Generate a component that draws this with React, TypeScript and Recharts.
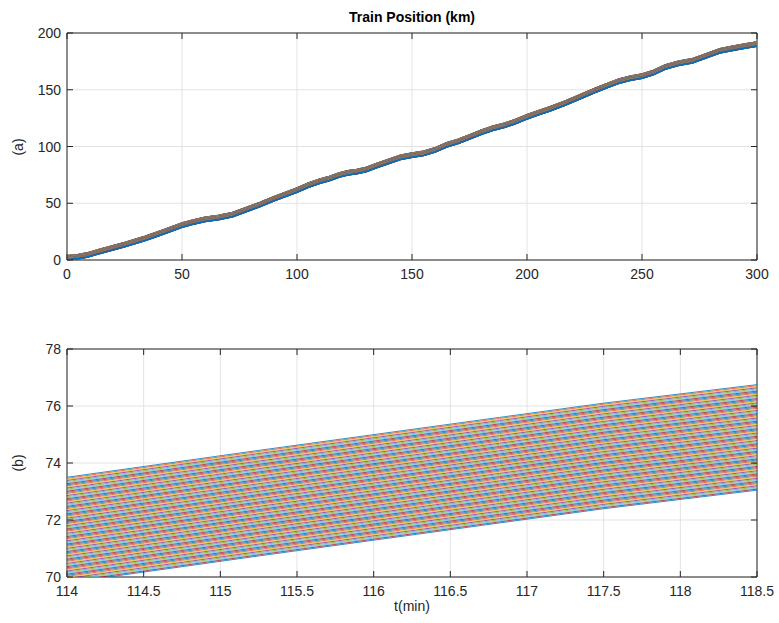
import { LineChart, Line, XAxis, YAxis, CartesianGrid, ReferenceArea } from 'recharts';

// time samples (min) and position of the front train (km)
const tMin = [
  0, 5, 9, 14, 20, 25, 29, 34, 39, 45, 50, 55, 60, 66, 72, 78, 84, 90, 95, 100, 105, 110,
  114, 115.26, 116.82, 117.5, 118.5, 122, 126, 130, 135, 140, 145, 150, 155, 160, 165, 170,
  175, 180, 185, 190, 195, 200, 205, 210, 217, 225, 230, 235, 240, 245, 250, 255, 260, 266,
  272, 278, 284, 290, 295, 300,
];
const leadKm = [
  3.8, 4.9, 6.3, 9.3, 12.6, 15.3, 17.8, 20.9, 24.4, 28.8, 32.6, 35.3, 37.6, 39.3, 41.8, 46.3,
  50.8, 55.8, 59.6, 63.4, 67.8, 71.3, 73.5, 74.45, 75.6, 76.1, 76.75, 78.6, 79.8, 81.5, 85.3,
  88.8, 92.3, 94.2, 95.8, 98.8, 103.2, 106.3, 110.2, 114.3, 117.8, 120.4, 123.8, 128.0, 131.6,
  135.0, 140.4, 147.3, 151.6, 155.6, 159.4, 162.0, 163.8, 167.0, 171.8, 175.2, 177.4, 181.8,
  186.2, 188.6, 190.4, 192.1,
];
// distance of each train behind the front one (km)
const trainGaps = [
  0, 0.038, 0.076, 0.113, 0.151, 0.189, 0.227, 0.265, 0.302, 0.34,
  0.378, 0.416, 0.454, 0.491, 0.529, 0.567, 0.605, 0.643, 0.68, 0.718,
  0.756, 0.794, 0.832, 0.869, 0.907, 0.945, 0.983, 1.021, 1.058, 1.096,
  1.134, 1.172, 1.21, 1.247, 1.285, 1.323, 1.361, 1.399, 1.436, 1.474,
  1.512, 1.55, 1.588, 1.625, 1.663, 1.701, 1.739, 1.777, 1.814, 1.852,
  1.89, 1.928, 1.966, 2.003, 2.041, 2.079, 2.117, 2.155, 2.192, 2.23,
  2.268, 2.306, 2.344, 2.381, 2.419, 2.457, 2.495, 2.533, 2.57, 2.608,
  2.646, 2.684, 2.722, 2.759, 2.797, 2.835, 2.873, 2.911, 2.948, 2.986,
  3.024, 3.062, 3.1, 3.137, 3.175, 3.213, 3.251, 3.289, 3.326, 3.364,
  3.402, 3.44, 3.478, 3.515, 3.553, 3.591, 3.629, 3.667, 3.704,
];

const topXTicks = [0, 50, 100, 150, 200, 250, 300];
const topYTicks = [0, 50, 100, 150, 200];
const zoomXTicks = [114, 114.5, 115, 115.5, 116, 116.5, 117, 117.5, 118, 118.5];
const zoomYTicks = [70, 72, 74, 76, 78];

const colors = ['#0072BD', '#D95319', '#EDB120', '#7E2F8E', '#77AC30', '#4DBEEE', '#A2142F'];
const AXIS = '#262626';
const FONT = '"Liberation Sans", Arial, Helvetica, sans-serif';
const TICK = 6;
const LEFT = 67;
const RIGHT = 757;

const rows = tMin.map((t, i) => {
  const row: Record<string, number> = { t };
  trainGaps.forEach((g, k) => {
    row[`s${k}`] = +(leadKm[i] - g).toFixed(3);
  });
  return row;
});
const zoomRows = rows.filter((r) => r.t >= 114 && r.t <= 118.5);

type PanelProps = {
  data: Record<string, number>[];
  xDomain: [number, number];
  yDomain: [number, number];
  xTicks: number[];
  yTicks: number[];
  top: number;
  height: number;
  axisH: number;
  lineW: number;
};

function Panel({ data, xDomain, yDomain, xTicks, yTicks, top, height, axisH, lineW }: PanelProps) {
  const bottom = height - axisH;

  const xTick = (p: any) => (
    <g>
      <line x1={p.x} y1={bottom} x2={p.x} y2={bottom - TICK} stroke={AXIS} />
      <line x1={p.x} y1={top} x2={p.x} y2={top + TICK} stroke={AXIS} />
      <text x={p.x} y={bottom + 19} textAnchor="middle" fontSize={14} fill={AXIS} fontFamily={FONT}>
        {p.payload.value}
      </text>
    </g>
  );
  const yTick = (p: any) => (
    <g>
      <line x1={LEFT} y1={p.y} x2={LEFT + TICK} y2={p.y} stroke={AXIS} />
      <line x1={RIGHT} y1={p.y} x2={RIGHT - TICK} y2={p.y} stroke={AXIS} />
      <text x={LEFT - 6} y={p.y + 5} textAnchor="end" fontSize={14} fill={AXIS} fontFamily={FONT}>
        {p.payload.value}
      </text>
    </g>
  );

  return (
    <LineChart
      width={779}
      height={height}
      data={data}
      margin={{ top, right: 779 - RIGHT, left: LEFT - 60, bottom: 0 }}
    >
      <CartesianGrid stroke="#e3e3e3" strokeWidth={1} />
      <XAxis
        dataKey="t"
        type="number"
        domain={xDomain}
        ticks={xTicks}
        allowDataOverflow
        height={axisH}
        axisLine={false}
        tickLine={false}
        tick={xTick}
        interval={0}
      />
      <YAxis
        type="number"
        domain={yDomain}
        ticks={yTicks}
        allowDataOverflow
        width={60}
        axisLine={false}
        tickLine={false}
        tick={yTick}
        interval={0}
      />
      {trainGaps.map((_, k) => (
        <Line
          key={k}
          type="linear"
          dataKey={`s${k}`}
          stroke={colors[k % colors.length]}
          strokeWidth={lineW}
          dot={false}
          activeDot={false}
          isAnimationActive={false}
        />
      ))}
      <ReferenceArea
        x1={xDomain[0]}
        x2={xDomain[1]}
        y1={yDomain[0]}
        y2={yDomain[1]}
        fill="none"
        fillOpacity={0}
        stroke={AXIS}
        strokeWidth={1}
      />
    </LineChart>
  );
}

export default function App() {
  const label = (text: string, x: number, y: number, rotate = false, bold = false) => (
    <div
      style={{
        position: 'absolute',
        left: x,
        top: y,
        transform: `translate(-50%, -50%)${rotate ? ' rotate(-90deg)' : ''}`,
        fontFamily: FONT,
        fontSize: 14,
        fontWeight: bold ? 'bold' : 'normal',
        color: bold ? '#000' : AXIS,
        whiteSpace: 'nowrap',
        lineHeight: '16px',
      }}
    >
      {text}
    </div>
  );

  return (
    <div style={{ position: 'absolute', left: 0, top: 0, width: 779, height: 623, background: '#fff' }}>
      <div style={{ position: 'absolute', left: 0, top: 0 }}>
        <Panel
          data={rows}
          xDomain={[0, 300]}
          yDomain={[0, 200]}
          xTicks={topXTicks}
          yTicks={topYTicks}
          top={33}
          height={300}
          axisH={40}
          lineW={1.6}
        />
      </div>
      <div style={{ position: 'absolute', left: 0, top: 300 }}>
        <Panel
          data={zoomRows}
          xDomain={[114, 118.5]}
          yDomain={[70, 78]}
          xTicks={zoomXTicks}
          yTicks={zoomYTicks}
          top={49}
          height={323}
          axisH={46}
          lineW={0.8}
        />
      </div>
      {label('Train Position (km)', 412, 17, false, true)}
      {label('(a)', 18, 147, true)}
      {label('(b)', 18, 463, true)}
      {label('t(min)', 412, 606)}
    </div>
  );
}
